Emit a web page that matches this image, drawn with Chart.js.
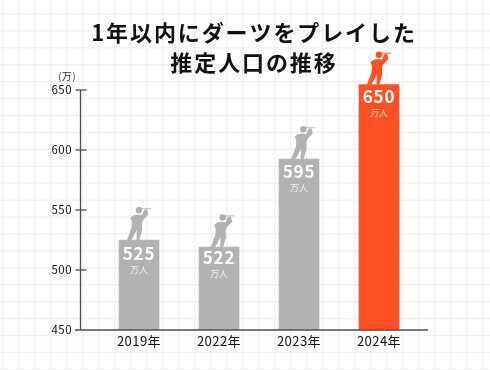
<!DOCTYPE html>
<html><head><meta charset="utf-8">
<style>
html,body{margin:0;padding:0;width:490px;height:370px;overflow:hidden;background-color:#fff;}
#wrap{position:absolute;left:0;top:0;width:490px;height:370px;}
canvas{display:block;}
</style>
<script src="https://cdn.jsdelivr.net/npm/chart.js@4"></script>
</head><body><div id="wrap"><canvas id="c" width="490" height="370"></canvas></div>
<script>
const categories = ['2019年','2022年','2023年','2024年'];
const statedValues = [525,522,595,650];
const drawnHeights = [525,519,592.5,654.6];
const yTicks = [450,500,550,600,650];
const titleLines = ['1年以内にダーツをプレイした','推定人口の推移'];
const unitLabel = '(万)';
const valueUnit = '万人';
const barColors = ['#b2b2b2','#b2b2b2','#b2b2b2','#ff5023'];
const JP = '"Noto Sans CJK JP"';
const labelShift = [0,-3,-1,-1];
const personShift = [0,3.7,4.3,0];

const gridPlugin = {id:'paper',beforeDraw(chart){
  const ctx=chart.ctx;ctx.save();ctx.fillStyle='#fff';ctx.fillRect(0,0,490,370);
  ctx.strokeStyle='#f0f0f0';ctx.lineWidth=1.3;
  for(let i=0;i<31;i++){const x=2.7+16*i;ctx.beginPath();ctx.moveTo(x,0);ctx.lineTo(x,370);ctx.stroke();}
  for(let i=0;i<22;i++){const y=14+16.92*i;ctx.beginPath();ctx.moveTo(0,y);ctx.lineTo(490,y);ctx.stroke();}
  ctx.restore();
  ctx.letterSpacing='0.45px';
}};
function person(ctx,cx,top,color){
  ctx.save();ctx.translate(cx,top);ctx.fillStyle=color;
  ctx.beginPath();ctx.arc(0,-29.7,3.3,0,Math.PI*2);ctx.fill();
  ctx.beginPath();
  ctx.moveTo(-12,0);ctx.lineTo(-7.5,-12);ctx.lineTo(-7,-18);ctx.lineTo(-8.5,-22.5);ctx.lineTo(-5,-25);
  ctx.lineTo(-1,-25.5);ctx.lineTo(3,-25);ctx.lineTo(5,-30);ctx.lineTo(8,-31);ctx.lineTo(9.5,-25.5);
  ctx.lineTo(4,-20);ctx.lineTo(3,-17);ctx.lineTo(3.3,-10);ctx.lineTo(0.3,0);ctx.lineTo(-2.5,0);
  ctx.lineTo(-2.2,-10);ctx.lineTo(-7.5,0);ctx.closePath();ctx.fill();
  ctx.globalAlpha=0.7;ctx.fillRect(2,-32,10,1.3);
  ctx.restore();
}
const axesPlugin = {id:'marks',afterDatasetsDraw(chart){
  const ctx=chart.ctx,y=chart.scales.y,meta=chart.getDatasetMeta(0);
  ctx.save();ctx.strokeStyle='#4d4d4d';ctx.lineWidth=1.3;
  const y0=y.getPixelForValue(450),y1=y.getPixelForValue(650);
  ctx.beginPath();ctx.moveTo(80.5,y1);ctx.lineTo(80.5,y0);ctx.moveTo(75,y0);ctx.lineTo(428,y0);ctx.stroke();
  yTicks.slice(1).forEach(v=>{const p=y.getPixelForValue(v);ctx.beginPath();ctx.moveTo(75.5,p);ctx.lineTo(86.5,p);ctx.stroke();});
  ctx.textAlign='center';ctx.textBaseline='alphabetic';
  ctx.fillStyle='#111';ctx.font='bold 22px '+JP;ctx.letterSpacing='1.9px';
  titleLines.forEach((t,i)=>ctx.fillText(t,254,41+i*29.5));
  ctx.fillStyle='#333';ctx.font='10px '+JP;ctx.letterSpacing='0.3px';ctx.fillText(unitLabel,67,80);
  meta.data.forEach((b,i)=>{
    person(ctx,b.x+personShift[i],b.y,barColors[i]);
    ctx.fillStyle='#fff';ctx.font='bold 17px '+JP;ctx.letterSpacing='0.8px';
    ctx.fillText(String(statedValues[i]),b.x,b.y+20+labelShift[i]);
    ctx.fillStyle='rgba(255,255,255,.8)';ctx.font='9px '+JP;ctx.letterSpacing='0px';
    ctx.fillText(valueUnit,b.x,b.y+33+labelShift[i]);
  });
  ctx.restore();
}};
new Chart(document.getElementById('c'),{
  type:'bar',
  data:{labels:categories,datasets:[{data:drawnHeights,backgroundColor:barColors,barThickness:40,borderWidth:0}]},
  options:{responsive:false,animation:false,
    layout:{padding:{left:0,right:71,top:78,bottom:0}},
    plugins:{legend:{display:false},tooltip:{enabled:false},title:{display:false}},
    scales:{
      x:{grid:{display:false,drawTicks:false},border:{display:false},
        afterFit(s){s.height=40;},
        ticks:{color:'#111',font:{family:JP,size:13},padding:3,maxRotation:0}},
      y:{min:450,max:660,grid:{display:false,drawTicks:false},border:{display:false},
        afterBuildTicks(s){s.ticks=yTicks.map(v=>({value:v}));},
        afterFit(s){s.width=99;},
        ticks:{color:'#111',font:{family:JP,size:11.5},padding:27}}
    }
  },
  plugins:[gridPlugin,axesPlugin]
});
</script></body></html>
